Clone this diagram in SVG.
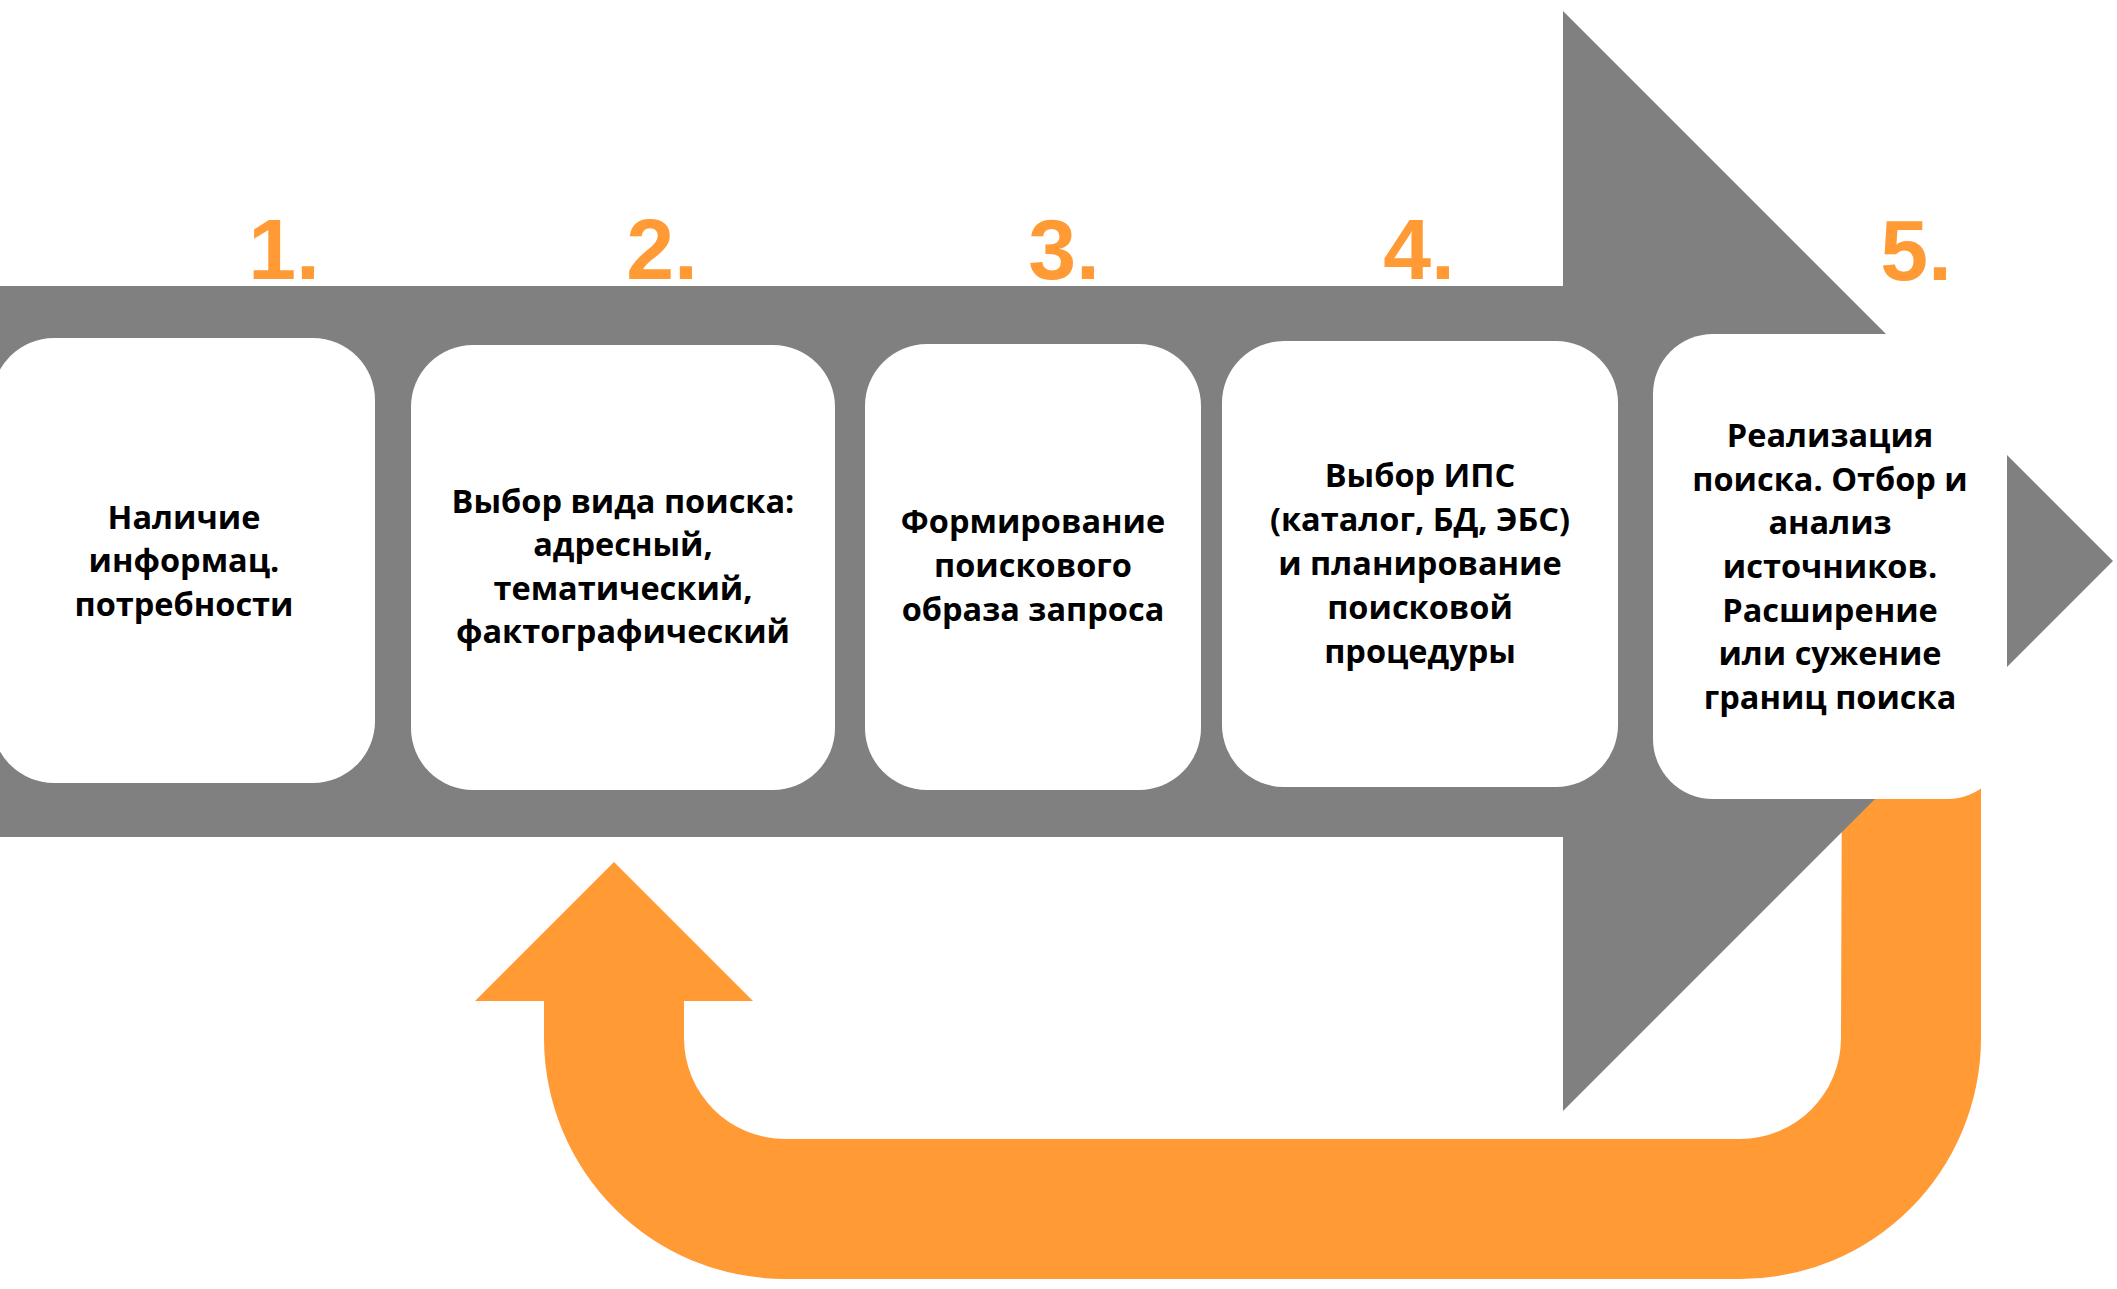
<svg xmlns="http://www.w3.org/2000/svg" width="2117" height="1289" viewBox="0 0 2117 1289">
  <style>
    .box { fill: #FFFFFF; }
    .lbl { font-family: "Open Sans", "Liberation Sans", sans-serif; font-weight: 700; font-size: 32.5px; fill: #000000; text-anchor: middle; }
    .num { font-family: "Liberation Sans", Arial, sans-serif; font-weight: 700; font-size: 86px; fill: #FF9A35; text-anchor: middle; }
  </style>
  <rect width="2117" height="1289" fill="#FFFFFF"/>
  <g id="connectors">
    <path id="feedback-arrow" fill="#FF9A35" d="M 1842 740 L 1981 740 L 1981 1038 A 241 241 0 0 1 1740 1279 L 785 1279 A 241 241 0 0 1 544 1038 L 544 1001 L 475 1001 L 614 862 L 753 1001 L 684 1001 L 684 1038 A 101 101 0 0 0 785 1139 L 1740 1139 A 101 101 0 0 0 1841 1038 Z"/>
  </g>
  <g id="main-arrow">
    <path fill="#808080" d="M 0 286 L 1563 286 L 1563 11 L 2113 561 L 1563 1111 L 1563 837 L 0 837 Z"/>
  </g>
  <g id="step1">
    <rect class="box" x="-8" y="338" width="383" height="445" rx="62" ry="62"/>
    <text class="num" x="284" y="279">1.</text>
    <text class="lbl"><tspan x="184" y="529">Наличие</tspan><tspan x="184" y="572">информац.</tspan><tspan x="184" y="616">потребности</tspan></text>
  </g>
  <g id="step2">
    <rect class="box" x="411" y="345" width="424" height="445" rx="62" ry="62"/>
    <text class="num" x="662" y="279">2.</text>
    <text class="lbl"><tspan x="623" y="513">Выбор вида поиска:</tspan><tspan x="623" y="556">адресный,</tspan><tspan x="623" y="600">тематический,</tspan><tspan x="623" y="643">фактографический</tspan></text>
  </g>
  <g id="step3">
    <rect class="box" x="865" y="344" width="336" height="446" rx="62" ry="62"/>
    <text class="num" x="1064" y="279">3.</text>
    <text class="lbl"><tspan x="1033" y="533">Формирование</tspan><tspan x="1033" y="577">поискового</tspan><tspan x="1033" y="621">образа запроса</tspan></text>
  </g>
  <g id="step4">
    <rect class="box" x="1222" y="341" width="396" height="446" rx="62" ry="62"/>
    <text class="num" x="1419" y="279">4.</text>
    <text class="lbl"><tspan x="1420" y="487">Выбор ИПС</tspan><tspan x="1420" y="531">(каталог, БД, ЭБС)</tspan><tspan x="1420" y="575">и планирование</tspan><tspan x="1420" y="619">поисковой</tspan><tspan x="1420" y="663">процедуры</tspan></text>
  </g>
  <g id="step5">
    <rect class="box" x="1653" y="334" width="354" height="465" rx="60" ry="60"/>
    <text class="num" x="1916" y="280">5.</text>
    <text class="lbl"><tspan x="1830" y="447">Реализация</tspan><tspan x="1830" y="491">поиска. Отбор и</tspan><tspan x="1830" y="534">анализ</tspan><tspan x="1830" y="578">источников.</tspan><tspan x="1830" y="622">Расширение</tspan><tspan x="1830" y="665">или сужение</tspan><tspan x="1830" y="709">границ поиска</tspan></text>
  </g>
</svg>
